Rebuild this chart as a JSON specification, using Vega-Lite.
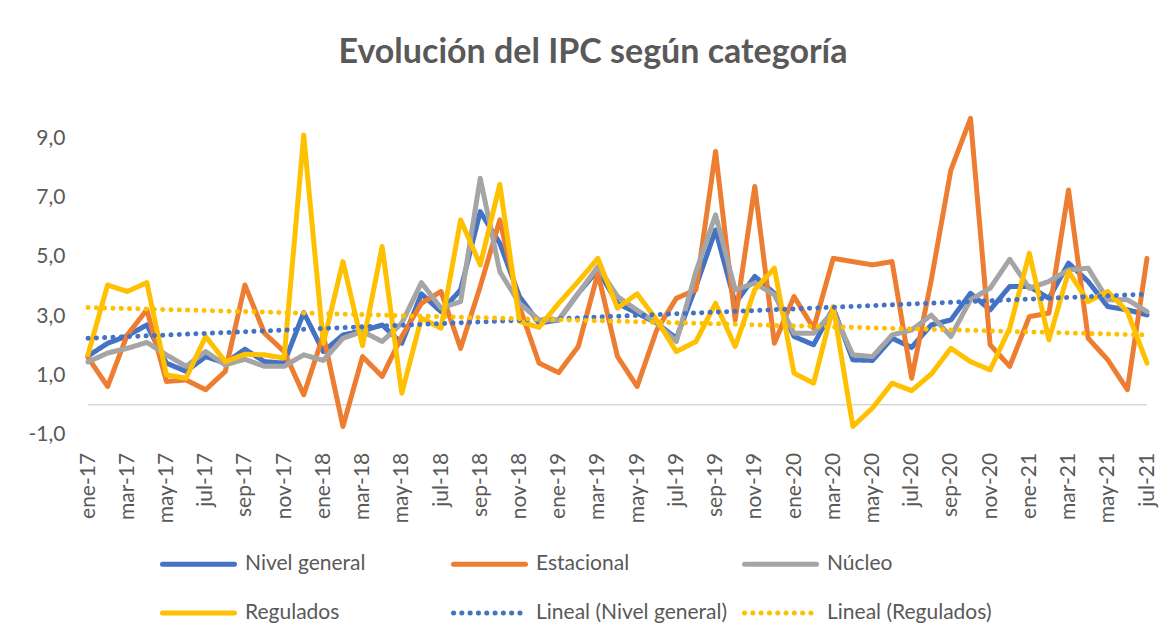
{
  "$schema": "https://vega.github.io/schema/vega-lite/v6.json",
  "autosize": "none",
  "width": 1059,
  "height": 355,
  "padding": {"left": 88, "top": 79.4, "right": 22, "bottom": 204.6},
  "background": "white",
  "config": {"view": {"stroke": null}, "font": "Lato"},
  "title": {
    "text": "Evolución del IPC según categoría",
    "fontSize": 34,
    "font": "Lato",
    "fontWeight": "bold",
    "color": "#595959",
    "anchor": "middle",
    "frame": "group",
    "dx": -24.5,
    "baseline": "alphabetic",
    "offset": -18
  },
  "datasets": {
    "main": [
      {"mes": "ene-17", "Nivel general": 1.65, "Estacional": 1.6, "Núcleo": 1.45, "Regulados": 1.7},
      {"mes": "feb-17", "Nivel general": 2.08, "Estacional": 0.62, "Núcleo": 1.75, "Regulados": 4.05},
      {"mes": "mar-17", "Nivel general": 2.33, "Estacional": 2.36, "Núcleo": 1.91, "Regulados": 3.83},
      {"mes": "abr-17", "Nivel general": 2.7, "Estacional": 3.21, "Núcleo": 2.11, "Regulados": 4.13},
      {"mes": "may-17", "Nivel general": 1.41, "Estacional": 0.79, "Núcleo": 1.69, "Regulados": 1.01},
      {"mes": "jun-17", "Nivel general": 1.13, "Estacional": 0.84, "Núcleo": 1.3, "Regulados": 0.9},
      {"mes": "jul-17", "Nivel general": 1.63, "Estacional": 0.51, "Núcleo": 1.8, "Regulados": 2.31},
      {"mes": "ago-17", "Nivel general": 1.41, "Estacional": 1.13, "Núcleo": 1.35, "Regulados": 1.46},
      {"mes": "sep-17", "Nivel general": 1.88, "Estacional": 4.05, "Núcleo": 1.54, "Regulados": 1.71},
      {"mes": "oct-17", "Nivel general": 1.46, "Estacional": 2.42, "Núcleo": 1.3, "Regulados": 1.69},
      {"mes": "nov-17", "Nivel general": 1.41, "Estacional": 1.8, "Núcleo": 1.3, "Regulados": 1.58},
      {"mes": "dic-17", "Nivel general": 3.12, "Estacional": 0.34, "Núcleo": 1.69, "Regulados": 9.12},
      {"mes": "ene-18", "Nivel general": 1.8, "Estacional": 2.36, "Núcleo": 1.5, "Regulados": 2.08},
      {"mes": "feb-18", "Nivel general": 2.36, "Estacional": -0.73, "Núcleo": 2.25, "Regulados": 4.84},
      {"mes": "mar-18", "Nivel general": 2.5, "Estacional": 1.63, "Núcleo": 2.48, "Regulados": 2.0},
      {"mes": "abr-18", "Nivel general": 2.7, "Estacional": 0.96, "Núcleo": 2.14, "Regulados": 5.35},
      {"mes": "may-18", "Nivel general": 2.08, "Estacional": 2.31, "Núcleo": 2.76, "Regulados": 0.39},
      {"mes": "jun-18", "Nivel general": 3.75, "Estacional": 3.43, "Núcleo": 4.13, "Regulados": 2.93},
      {"mes": "jul-18", "Nivel general": 3.15, "Estacional": 3.83, "Núcleo": 3.27, "Regulados": 2.59},
      {"mes": "ago-18", "Nivel general": 3.89, "Estacional": 1.91, "Núcleo": 3.49, "Regulados": 6.25},
      {"mes": "sep-18", "Nivel general": 6.53, "Estacional": 4.0, "Núcleo": 7.66, "Regulados": 4.73},
      {"mes": "oct-18", "Nivel general": 5.46, "Estacional": 6.25, "Núcleo": 4.5, "Regulados": 7.45},
      {"mes": "nov-18", "Nivel general": 3.66, "Estacional": 3.32, "Núcleo": 3.43, "Regulados": 2.82},
      {"mes": "dic-18", "Nivel general": 2.76, "Estacional": 1.41, "Núcleo": 2.87, "Regulados": 2.62},
      {"mes": "ene-19", "Nivel general": 2.87, "Estacional": 1.09, "Núcleo": 2.87, "Regulados": 3.43},
      {"mes": "feb-19", "Nivel general": 3.77, "Estacional": 1.97, "Núcleo": 3.77, "Regulados": 4.17},
      {"mes": "mar-19", "Nivel general": 4.56, "Estacional": 4.45, "Núcleo": 4.67, "Regulados": 4.95},
      {"mes": "abr-19", "Nivel general": 3.43, "Estacional": 1.63, "Núcleo": 3.66, "Regulados": 3.27},
      {"mes": "may-19", "Nivel general": 3.1, "Estacional": 0.62, "Núcleo": 3.2, "Regulados": 3.75},
      {"mes": "jun-19", "Nivel general": 2.76, "Estacional": 2.53, "Núcleo": 2.76, "Regulados": 2.87},
      {"mes": "jul-19", "Nivel general": 2.25, "Estacional": 3.6, "Núcleo": 2.14, "Regulados": 1.8},
      {"mes": "ago-19", "Nivel general": 4.0, "Estacional": 3.89, "Núcleo": 4.5, "Regulados": 2.14},
      {"mes": "sep-19", "Nivel general": 5.91, "Estacional": 8.56, "Núcleo": 6.42, "Regulados": 3.43},
      {"mes": "oct-19", "Nivel general": 3.43, "Estacional": 2.87, "Núcleo": 3.89, "Regulados": 1.97},
      {"mes": "nov-19", "Nivel general": 4.34, "Estacional": 7.38, "Núcleo": 4.11, "Regulados": 3.89},
      {"mes": "dic-19", "Nivel general": 3.77, "Estacional": 2.08, "Núcleo": 3.72, "Regulados": 4.62},
      {"mes": "ene-20", "Nivel general": 2.31, "Estacional": 3.66, "Núcleo": 2.42, "Regulados": 1.07},
      {"mes": "feb-20", "Nivel general": 2.03, "Estacional": 2.59, "Núcleo": 2.42, "Regulados": 0.73},
      {"mes": "mar-20", "Nivel general": 3.27, "Estacional": 4.95, "Núcleo": 3.15, "Regulados": 3.32},
      {"mes": "abr-20", "Nivel general": 1.52, "Estacional": 4.84, "Núcleo": 1.69, "Regulados": -0.73},
      {"mes": "may-20", "Nivel general": 1.5, "Estacional": 4.73, "Núcleo": 1.63, "Regulados": -0.11},
      {"mes": "jun-20", "Nivel general": 2.25, "Estacional": 4.84, "Núcleo": 2.36, "Regulados": 0.73},
      {"mes": "jul-20", "Nivel general": 1.94, "Estacional": 0.9, "Núcleo": 2.53, "Regulados": 0.48},
      {"mes": "ago-20", "Nivel general": 2.7, "Estacional": 4.22, "Núcleo": 3.03, "Regulados": 1.04},
      {"mes": "sep-20", "Nivel general": 2.87, "Estacional": 7.94, "Núcleo": 2.31, "Regulados": 1.91},
      {"mes": "oct-20", "Nivel general": 3.77, "Estacional": 9.68, "Núcleo": 3.55, "Regulados": 1.46},
      {"mes": "nov-20", "Nivel general": 3.21, "Estacional": 2.03, "Núcleo": 3.94, "Regulados": 1.18},
      {"mes": "dic-20", "Nivel general": 4.0, "Estacional": 1.3, "Núcleo": 4.92, "Regulados": 2.59},
      {"mes": "ene-21", "Nivel general": 4.0, "Estacional": 2.98, "Núcleo": 3.94, "Regulados": 5.12},
      {"mes": "feb-21", "Nivel general": 3.6, "Estacional": 3.1, "Núcleo": 4.17, "Regulados": 2.2},
      {"mes": "mar-21", "Nivel general": 4.79, "Estacional": 7.26, "Núcleo": 4.56, "Regulados": 4.5},
      {"mes": "abr-21", "Nivel general": 4.17, "Estacional": 2.25, "Núcleo": 4.62, "Regulados": 3.49},
      {"mes": "may-21", "Nivel general": 3.32, "Estacional": 1.52, "Núcleo": 3.55, "Regulados": 3.83},
      {"mes": "jun-21", "Nivel general": 3.21, "Estacional": 0.51, "Núcleo": 3.55, "Regulados": 3.15},
      {"mes": "jul-21", "Nivel general": 3.04, "Estacional": 4.95, "Núcleo": 3.15, "Regulados": 1.41}
    ],
    "trend": [
      {"mes": "ene-17", "serie": "Lineal (Nivel general)", "valor": 2.25},
      {"mes": "jul-21", "serie": "Lineal (Nivel general)", "valor": 3.74},
      {"mes": "ene-17", "serie": "Lineal (Regulados)", "valor": 3.29},
      {"mes": "jul-21", "serie": "Lineal (Regulados)", "valor": 2.36}
    ]
  },
  "layer": [
    {
      "data": {"values": [{}]},
      "mark": {"type": "rule", "color": "#d9d9d9", "strokeWidth": 1.5},
      "encoding": {
        "y": {
          "datum": 0, "type": "quantitative",
          "scale": {"domain": [-1, 11], "nice": false, "zero": false},
          "axis": {
            "values": [-1, 1, 3, 5, 7, 9],
            "labelExpr": "replace(replace(format(datum.value, '.1f'), '.', ','), '\u2212', '-')",
            "grid": false, "domain": false, "ticks": false, "labelPadding": 23,
            "labelFontSize": 21, "labelColor": "#595959", "labelFont": "Lato", "title": null, "labelFlush": false
          }
        }
      }
    },
    {
      "data": {"name": "main"},
      "transform": [{"fold": ["Nivel general", "Estacional", "Núcleo", "Regulados"], "as": ["serie", "valor"]}],
      "mark": {"type": "line", "strokeCap": "round", "strokeJoin": "round"},
      "encoding": {
        "x": {
          "field": "mes", "type": "ordinal",
          "scale": {"type": "point", "padding": 0, "domain": ["ene-17","feb-17","mar-17","abr-17","may-17","jun-17","jul-17","ago-17","sep-17","oct-17","nov-17","dic-17","ene-18","feb-18","mar-18","abr-18","may-18","jun-18","jul-18","ago-18","sep-18","oct-18","nov-18","dic-18","ene-19","feb-19","mar-19","abr-19","may-19","jun-19","jul-19","ago-19","sep-19","oct-19","nov-19","dic-19","ene-20","feb-20","mar-20","abr-20","may-20","jun-20","jul-20","ago-20","sep-20","oct-20","nov-20","dic-20","ene-21","feb-21","mar-21","abr-21","may-21","jun-21","jul-21"]},
          "axis": {
            "values": ["ene-17","mar-17","may-17","jul-17","sep-17","nov-17","ene-18","mar-18","may-18","jul-18","sep-18","nov-18","ene-19","mar-19","may-19","jul-19","sep-19","nov-19","ene-20","mar-20","may-20","jul-20","sep-20","nov-20","ene-21","mar-21","may-21","jul-21"],
            "labelAngle": -90, "labelFontSize": 21, "labelColor": "#595959", "labelFont": "Lato",
            "labelPadding": 18, "ticks": false, "domain": false, "grid": false, "title": null, "labelFlush": false, "labelOverlap": false
          }
        },
        "y": {
          "field": "valor", "type": "quantitative",
          "scale": {"domain": [-1, 11], "nice": false, "zero": false},
          "axis": {
            "values": [-1, 1, 3, 5, 7, 9],
            "labelExpr": "replace(replace(format(datum.value, '.1f'), '.', ','), '\u2212', '-')",
            "grid": false, "domain": false, "ticks": false, "labelPadding": 23,
            "labelFontSize": 21, "labelColor": "#595959", "labelFont": "Lato", "title": null, "labelFlush": false
          }
        },
        "color": {
          "field": "serie", "type": "nominal",
          "scale": {"domain": ["Nivel general", "Estacional", "Núcleo", "Regulados", "Lineal (Nivel general)", "Lineal (Regulados)"], "range": ["#4472C4", "#ED7D31", "#A5A5A5", "#FFC000", "#4472C4", "#FFC000"]},
          "legend": {
            "title": null, "orient": "none", "legendX": 72, "legendY": 446, "direction": "horizontal", "columns": 3,
            "symbolType": "stroke", "symbolSize": 5184, "labelFontSize": 21, "labelColor": "#595959", "labelFont": "Lato",
            "labelOffset": 8, "columnPadding": 6, "rowPadding": -42, "gridAlign": "all", "labelLimit": 400, "padding": 0,
            "encode": {"symbols": {"update": {"strokeCap": {"value": "round"}}}}
          }
        },
        "strokeDash": {
          "field": "serie", "type": "nominal",
          "scale": {"domain": ["Nivel general", "Estacional", "Núcleo", "Regulados", "Lineal (Nivel general)", "Lineal (Regulados)"], "range": [[1, 0], [1, 0], [1, 0], [1, 0], [0.1, 8.2], [0.1, 8.2]]},
          "legend": {
            "title": null, "orient": "none", "legendX": 72, "legendY": 446, "direction": "horizontal", "columns": 3,
            "symbolType": "stroke", "symbolSize": 5184, "labelFontSize": 21, "labelColor": "#595959", "labelFont": "Lato",
            "labelOffset": 8, "columnPadding": 6, "rowPadding": -42, "gridAlign": "all", "labelLimit": 400, "padding": 0,
            "encode": {"symbols": {"update": {"strokeCap": {"value": "round"}}}}
          }
        },
        "strokeWidth": {
          "field": "serie", "type": "nominal",
          "scale": {"domain": ["Nivel general", "Estacional", "Núcleo", "Regulados", "Lineal (Nivel general)", "Lineal (Regulados)"], "range": [5, 5, 5, 5, 3.5, 3.5]},
          "legend": {
            "title": null, "orient": "none", "legendX": 72, "legendY": 446, "direction": "horizontal", "columns": 3,
            "symbolType": "stroke", "symbolSize": 5184, "labelFontSize": 21, "labelColor": "#595959", "labelFont": "Lato",
            "labelOffset": 8, "columnPadding": 6, "rowPadding": -42, "gridAlign": "all", "labelLimit": 400, "padding": 0,
            "encode": {"symbols": {"update": {"strokeCap": {"value": "round"}}}}
          }
        }
      }
    },
    {
      "data": {"name": "trend"},
      "mark": {"type": "line", "strokeCap": "round"},
      "encoding": {
        "x": {"field": "mes", "type": "ordinal"},
        "y": {"field": "valor", "type": "quantitative"},
        "color": {"field": "serie", "type": "nominal"},
        "strokeDash": {"field": "serie", "type": "nominal"},
        "strokeWidth": {"field": "serie", "type": "nominal"}
      }
    }
  ]
}
